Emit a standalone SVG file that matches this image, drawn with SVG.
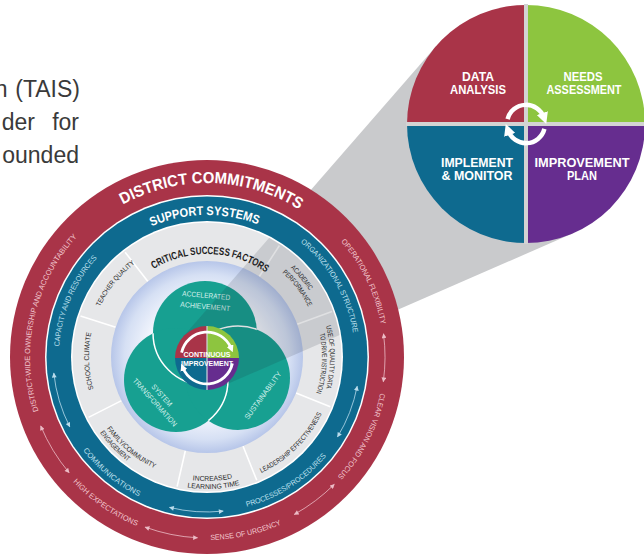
<svg xmlns="http://www.w3.org/2000/svg" width="644" height="555" viewBox="0 0 644 555">
<style>
  .para{font-family:"Liberation Sans",Arial,sans-serif;font-size:23px;fill:#3a3a3a}
  .ring{font-family:"Liberation Sans",Arial,sans-serif}
  .big{font-weight:bold;fill:#fff}
  .rs{font-size:7.5px;fill:#f2c7cf}
  .bs{font-size:7.5px;fill:#bfe0ee}
  .gs{font-size:7px;fill:#2a2a2a}
  .teal{font-family:"Liberation Sans",Arial,sans-serif;font-size:7.5px;fill:#d6f1ec}
  .quad{font-family:"Liberation Sans",Arial,sans-serif;font-weight:bold;font-size:12.5px;fill:#fff}
  .ci{font-family:"Liberation Sans",Arial,sans-serif;font-weight:bold;font-size:7px;fill:#fff}
  .arr-r{fill:none;stroke:#ecbcc6;stroke-width:0.8}
  .arr-b{fill:none;stroke:#b9dcec;stroke-width:0.8}
  .div{stroke:#fff;stroke-width:1.6}
  .wa{fill:none;stroke:#fff}
</style>
<defs>
  <marker id="hr" viewBox="0 0 10 10" refX="9" refY="5" markerWidth="7" markerHeight="6" orient="auto-start-reverse"><path d="M0,0 L10,5 L0,10 z" fill="#ecbcc6"/></marker>
  <marker id="hb" viewBox="0 0 10 10" refX="9" refY="5" markerWidth="7" markerHeight="6" orient="auto-start-reverse"><path d="M0,0 L10,5 L0,10 z" fill="#b9dcec"/></marker>
  <marker id="hw" viewBox="0 0 10 10" refX="4" refY="5" markerWidth="2.6" markerHeight="2.6" orient="auto"><path d="M0,0 L10,5 L0,10 z" fill="#fff"/></marker>
  <radialGradient id="disc" cx="207" cy="357" r="96" gradientUnits="userSpaceOnUse">
    <stop offset="0" stop-color="#ffffff"/>
    <stop offset="0.62" stop-color="#f3f6fd"/>
    <stop offset="0.86" stop-color="#d6e0f4"/>
    <stop offset="1" stop-color="#b7c6e9"/>
  </radialGradient>
  <clipPath id="inner"><circle cx="207" cy="357" r="134.5"/></clipPath>
  <clipPath id="cTop"><circle cx="205" cy="333" r="52"/></clipPath>
  <clipPath id="cLeft"><circle cx="176" cy="380" r="52"/></clipPath>
  <clipPath id="cRight"><circle cx="238" cy="378" r="52"/></clipPath>
  <!-- clockwise circles start at the bottom, counter-clockwise ones at the top -->
  <path id="cw174" d="M207,531 A174,174 0 1,1 207,183 A174,174 0 1,1 207,531"/>
  <path id="cw177" d="M207,534 A177,177 0 1,1 207,180 A177,177 0 1,1 207,534"/>
  <path id="cw148" d="M207,505 A148,148 0 1,1 207,209 A148,148 0 1,1 207,505"/>
  <path id="cw142" d="M207,499 A142,142 0 1,1 207,215 A142,142 0 1,1 207,499"/>
  <path id="cw103" d="M207,460 A103,103 0 1,1 207,254 A103,103 0 1,1 207,460"/>
  <path id="cw118" d="M207,475 A118,118 0 1,1 207,239 A118,118 0 1,1 207,475"/>
  <path id="cw122" d="M207,479 A122,122 0 1,1 207,235 A122,122 0 1,1 207,479"/>
  <path id="cw113" d="M207,470 A113,113 0 1,1 207,244 A113,113 0 1,1 207,470"/>
  <path id="cw123" d="M207,480 A123,123 0 1,1 207,234 A123,123 0 1,1 207,480"/>
  <path id="cw115" d="M207,472 A115,115 0 1,1 207,242 A115,115 0 1,1 207,472"/>
  <path id="cc183" d="M207,174 A183,183 0 1,0 207,540 A183,183 0 1,0 207,174"/>
  <path id="cc155" d="M207,202 A155,155 0 1,0 207,512 A155,155 0 1,0 207,202"/>
  <path id="cc128" d="M207,229 A128,128 0 1,0 207,485 A128,128 0 1,0 207,229"/>
  <path id="cc124" d="M207,233 A124,124 0 1,0 207,481 A124,124 0 1,0 207,233"/>
  <path id="cc132" d="M207,225 A132,132 0 1,0 207,489 A132,132 0 1,0 207,225"/>
  <path id="cc123" d="M207,234 A123,123 0 1,0 207,480 A123,123 0 1,0 207,234"/>
  <path id="cc131" d="M207,226 A131,131 0 1,0 207,488 A131,131 0 1,0 207,226"/>
</defs>

<!-- paragraph fragment at the left edge -->
<g id="paragraph" class="para">
  <text x="7.5" y="97" text-anchor="end">n</text>
  <text x="80" y="97" text-anchor="end">(TAIS)</text>
  <text x="35" y="130" text-anchor="end">der</text>
  <text x="79" y="130" text-anchor="end">for</text>
  <text x="79" y="163" text-anchor="end">ounded</text>
</g>

<!-- spotlight band linking the centre to the improvement cycle -->
<polygon id="beam" points="182.9,337 436.2,45.9 526,124 573.6,233.1 219.8,387.3" fill="#c9cacc"/>

<!-- improvement cycle -->
<g id="improvement-cycle">
  <path d="M526,124 L407,124 A119,119 0 0,1 526,5 Z" fill="#a93448"/>
  <path d="M526,124 L526,5 A119,119 0 0,1 645,124 Z" fill="#8dc53f"/>
  <path d="M526,124 L645,124 A119,119 0 0,1 526,243 Z" fill="#662d8f"/>
  <path d="M526,124 L526,243 A119,119 0 0,1 407,124 Z" fill="#0e6a8f"/>
  <path d="M526,4 V244 M406,124 H646" stroke="#d3d3d3" stroke-width="4"/>
  <text class="quad" x="478" y="81" text-anchor="middle" textLength="32" lengthAdjust="spacingAndGlyphs">DATA</text>
  <text class="quad" x="478" y="94" text-anchor="middle" textLength="56" lengthAdjust="spacingAndGlyphs">ANALYSIS</text>
  <text class="quad" x="583" y="81" text-anchor="middle" textLength="39" lengthAdjust="spacingAndGlyphs">NEEDS</text>
  <text class="quad" x="584" y="94" text-anchor="middle" textLength="75" lengthAdjust="spacingAndGlyphs">ASSESSMENT</text>
  <text class="quad" x="477" y="167" text-anchor="middle" textLength="72" lengthAdjust="spacingAndGlyphs">IMPLEMENT</text>
  <text class="quad" x="477" y="180" text-anchor="middle" textLength="71" lengthAdjust="spacingAndGlyphs">&amp; MONITOR</text>
  <text class="quad" x="582" y="167" text-anchor="middle" textLength="95" lengthAdjust="spacingAndGlyphs">IMPROVEMENT</text>
  <text class="quad" x="582" y="180" text-anchor="middle" textLength="30" lengthAdjust="spacingAndGlyphs">PLAN</text>
  <path class="wa" stroke-width="4.5" d="M507.6,119.1 A19,19 0 0,1 543.9,117.5" marker-end="url(#hw)"/>
  <path class="wa" stroke-width="4.5" d="M544.4,128.9 A19,19 0 0,1 508.1,130.5" marker-end="url(#hw)"/>
</g>

<!-- district commitments ring -->
<g id="district-commitments">
  <circle cx="207" cy="357" r="197" fill="#a93448"/>
  <circle cx="207" cy="357" r="162" fill="#fff"/>
  <text class="ring big" font-size="16"><textPath href="#cw174" startOffset="551.2" text-anchor="middle" textLength="185" lengthAdjust="spacingAndGlyphs">DISTRICT COMMITMENTS</textPath></text>
  <text class="ring rs"><textPath href="#cw177" startOffset="316.6" text-anchor="middle" textLength="187" lengthAdjust="spacingAndGlyphs">DISTRICT-WIDE OWNERSHIP AND ACCOUNTABILITY</textPath></text>
  <text class="ring rs"><textPath href="#cw177" startOffset="754.4" text-anchor="middle" textLength="93" lengthAdjust="spacingAndGlyphs">OPERATIONAL FLEXIBILITY</textPath></text>
  <text class="ring rs"><textPath href="#cw177" startOffset="917.5" text-anchor="middle" textLength="95" lengthAdjust="spacingAndGlyphs">CLEAR VISION AND FOCUS</textPath></text>
  <text class="ring rs"><textPath href="#cc183" startOffset="614.8" text-anchor="middle" textLength="73" lengthAdjust="spacingAndGlyphs">SENSE OF URGENCY</textPath></text>
  <text class="ring rs"><textPath href="#cc183" startOffset="463.8" text-anchor="middle" textLength="78" lengthAdjust="spacingAndGlyphs">HIGH EXPECTATIONS</textPath></text>
</g>

<!-- support systems ring -->
<g id="support-systems">
  <circle cx="207" cy="357" r="160.5" fill="#0e6a8f"/>
  <circle cx="207" cy="357" r="136" fill="#fff"/>
  <text class="ring big" font-size="12.5"><textPath href="#cw142" startOffset="443.6" text-anchor="middle" textLength="109" lengthAdjust="spacingAndGlyphs">SUPPORT SYSTEMS</textPath></text>
  <text class="ring bs"><textPath href="#cw148" startOffset="291.9" text-anchor="middle" textLength="98" lengthAdjust="spacingAndGlyphs">CAPACITY AND RESOURCES</textPath></text>
  <text class="ring bs"><textPath href="#cw148" startOffset="619.4" text-anchor="middle" textLength="107" lengthAdjust="spacingAndGlyphs">ORGANIZATIONAL STRUCTURE</textPath></text>
  <text class="ring bs"><textPath href="#cc155" startOffset="379.8" text-anchor="middle" textLength="73" lengthAdjust="spacingAndGlyphs">COMMUNICATIONS</textPath></text>
  <text class="ring bs"><textPath href="#cc155" startOffset="574.9" text-anchor="middle" textLength="96" lengthAdjust="spacingAndGlyphs">PROCESSES/PROCEDURES</textPath></text>
</g>

<!-- double-headed arrows between ring labels -->
<g id="connectors">
  <path class="arr-r" d="M383.5,333.8 A178,178 0 0,1 383.3,381.8" marker-start="url(#hr)" marker-end="url(#hr)"/>
  <path class="arr-r" d="M334.3,484.3 A180,180 0 0,1 294.3,514.4" marker-start="url(#hr)" marker-end="url(#hr)"/>
  <path class="arr-r" d="M197.5,537.8 A181,181 0 0,1 145.1,527.1" marker-start="url(#hr)" marker-end="url(#hr)"/>
  <path class="arr-r" d="M69.1,472.7 A180,180 0 0,1 40.7,425.9" marker-start="url(#hr)" marker-end="url(#hr)"/>
  <path class="arr-b" d="M69.8,426.9 A154,154 0 0,1 53.8,373.1" marker-start="url(#hb)" marker-end="url(#hb)"/>
  <path class="arr-b" d="M223.2,511.1 A155,155 0 0,1 169.5,507.4" marker-start="url(#hb)" marker-end="url(#hb)"/>
  <path class="arr-b" d="M357.2,386.2 A153,153 0 0,1 337.5,436.9" marker-start="url(#hb)" marker-end="url(#hb)"/>
</g>

<!-- critical success factors ring -->
<g id="critical-success-factors">
  <circle cx="207" cy="357" r="134.5" fill="#e6e7e9"/>
  <path class="div" d="M147.9,281.4 L125.1,252.2 M115.7,327.3 L80.5,315.9 M121.5,400.6 L88.5,417.4 M185.4,450.5 L177.1,486.6 M243,446 L256.8,480.3 M296,393 L330.3,406.8 M297.2,324.2 L332,311.5 M259.3,276.5 L279.4,245.5"/>
  <text class="ring" font-size="10.5" font-weight="bold" fill="#1e1e1e"><textPath href="#cw103" startOffset="326.5" text-anchor="middle" textLength="119" lengthAdjust="spacingAndGlyphs">CRITICAL SUCCESS FACTORS</textPath></text>
  <text class="ring gs"><textPath href="#cw118" startOffset="265.1" text-anchor="middle" textLength="56" lengthAdjust="spacingAndGlyphs">TEACHER QUALITY</textPath></text>
  <text class="ring gs"><textPath href="#cw118" startOffset="181.2" text-anchor="middle" textLength="57" lengthAdjust="spacingAndGlyphs">SCHOOL CLIMATE</textPath></text>
  <text class="ring gs"><textPath href="#cw122" startOffset="489.7" text-anchor="middle" textLength="29" lengthAdjust="spacingAndGlyphs">ACADEMIC</textPath></text>
  <text class="ring gs"><textPath href="#cw113" startOffset="458.5" text-anchor="middle" textLength="43" lengthAdjust="spacingAndGlyphs">PERFORMANCE</textPath></text>
  <text class="ring gs"><textPath href="#cw123" startOffset="579.6" text-anchor="middle" textLength="63" lengthAdjust="spacingAndGlyphs">USE OF QUALITY DATA</textPath></text>
  <text class="ring gs"><textPath href="#cw115" startOffset="547.9" text-anchor="middle" textLength="60" lengthAdjust="spacingAndGlyphs">TO DRIVE INSTRUCTION</textPath></text>
  <text class="ring gs"><textPath href="#cc128" startOffset="501.1" text-anchor="middle" textLength="86" lengthAdjust="spacingAndGlyphs">LEADERSHIP EFFECTIVENESS</textPath></text>
  <text class="ring gs"><textPath href="#cc124" startOffset="395" text-anchor="middle" textLength="40" lengthAdjust="spacingAndGlyphs">INCREASED</textPath></text>
  <text class="ring gs"><textPath href="#cc132" startOffset="421.1" text-anchor="middle" textLength="53" lengthAdjust="spacingAndGlyphs">LEARNING TIME</textPath></text>
  <text class="ring gs"><textPath href="#cc123" startOffset="300.8" text-anchor="middle" textLength="63" lengthAdjust="spacingAndGlyphs">FAMILY/COMMUNITY</textPath></text>
  <text class="ring gs"><textPath href="#cc131" startOffset="306.4" text-anchor="middle" textLength="40" lengthAdjust="spacingAndGlyphs">ENGAGEMENT</textPath></text>
  <circle cx="207" cy="357" r="96" fill="url(#disc)"/>
</g>

<!-- three overlapping goal circles -->
<g id="goals">
  <circle cx="205" cy="333" r="52" fill="#17a091"/>
  <circle cx="176" cy="380" r="52" fill="#17a091"/>
  <circle cx="238" cy="378" r="52" fill="#17a091"/>
  <circle cx="205" cy="333" r="52" class="wa" stroke-width="1.5" clip-path="url(#cLeft)"/>
  <circle cx="238" cy="378" r="52" class="wa" stroke-width="1.5" clip-path="url(#cTop)"/>
  <circle cx="176" cy="380" r="52" class="wa" stroke-width="1.5" clip-path="url(#cRight)"/>
  <text class="teal" x="206" y="298" text-anchor="middle" transform="rotate(5 206 298)" textLength="48" lengthAdjust="spacingAndGlyphs">ACCELERATED</text>
  <text class="teal" x="205" y="309" text-anchor="middle" transform="rotate(5 205 309)" textLength="50" lengthAdjust="spacingAndGlyphs">ACHIEVEMENT</text>
  <text class="teal" x="160" y="397" text-anchor="middle" transform="rotate(48 160 397)" textLength="27" lengthAdjust="spacingAndGlyphs">SYSTEM</text>
  <text class="teal" x="153" y="404" text-anchor="middle" transform="rotate(48 153 404)" textLength="62" lengthAdjust="spacingAndGlyphs">TRANSFORMATION</text>
  <text class="teal" x="265" y="397" text-anchor="middle" transform="rotate(-54 265 397)" textLength="57" lengthAdjust="spacingAndGlyphs">SUSTAINABILITY</text>
</g>

<!-- spotlight shading over the inner rings -->
<polygon points="182.9,337 436.2,45.9 573.6,233.1 219.8,387.3" fill="#1c2233" fill-opacity="0.14" clip-path="url(#inner)"/>

<!-- continuous improvement hub -->
<g id="continuous-improvement">
  <path d="M207,358 L175,358 A32,32 0 0,1 207,326 Z" fill="#a93448"/>
  <path d="M207,358 L207,326 A32,32 0 0,1 239,358 Z" fill="#8dc53f"/>
  <path d="M207,358 L239,358 A32,32 0 0,1 207,390 Z" fill="#662d8f"/>
  <path d="M207,358 L207,390 A32,32 0 0,1 175,358 Z" fill="#0e6a8f"/>
  <path d="M207,326 V390" stroke="#cfd5de" stroke-width="1.2"/>
  <path class="wa" stroke-width="2.8" d="M181.6,352.6 A26,26 0 0,1 231.1,348.3" marker-end="url(#hw)"/>
  <path class="wa" stroke-width="2.8" d="M232.4,363.4 A26,26 0 0,1 182.9,367.7" marker-end="url(#hw)"/>
  <text class="ci" x="207" y="357" text-anchor="middle">CONTINUOUS</text>
  <text class="ci" x="207" y="366" text-anchor="middle">IMPROVEMENT</text>
</g>
</svg>
